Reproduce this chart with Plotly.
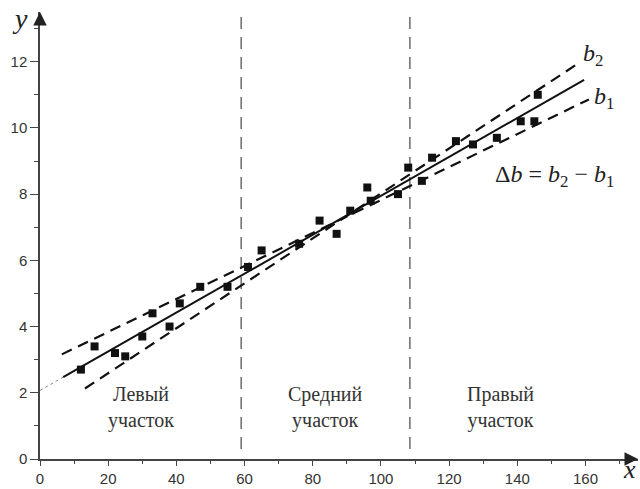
import plotly.graph_objects as go

# ---- data ----
x_pts = [12, 16, 22, 25, 30, 33, 38, 41, 47, 55, 61, 65, 76, 82, 87, 91, 96, 97,
         105, 108, 112, 115, 122, 127, 134, 141, 145, 146]
y_pts = [2.7, 3.4, 3.2, 3.1, 3.7, 4.4, 4.0, 4.7, 5.2, 5.2, 5.8, 6.3, 6.5, 7.2, 6.8,
         7.5, 8.2, 7.8, 8.0, 8.8, 8.4, 9.1, 9.6, 9.5, 9.7, 10.2, 10.2, 11.0]

fit_x = [6.8, 159.6]
fit_y = [2.47, 11.45]
extrap_x = [0, 6.8]
extrap_y = [2.07, 2.47]
b2_x = [13.2, 157.6]
b2_y = [2.13, 11.93]
b1_x = [6.4, 161.0]
b1_y = [3.16, 10.86]

divider_x = [59, 108.5]
divider_y = [0.3, 13.5]

region_labels = ["Левый<br>участок", "Средний<br>участок", "Правый<br>участок"]
region_x = [29.5, 83.7, 135.1]
region_y = [1.55, 1.55, 1.55]

x_ticks = [0, 20, 40, 60, 80, 100, 120, 140, 160]
y_ticks = [0, 2, 4, 6, 8, 10, 12]

X_MAX = 175.4
Y_MAX = 13.5

AX = "#444444"
SERIF = "Liberation Serif"

fig = go.Figure()

for dx in divider_x:
    fig.add_trace(go.Scatter(x=[dx, dx], y=divider_y, mode="lines",
                             line=dict(color="#555555", width=1.3, dash="12px,8px"),
                             hoverinfo="skip"))

fig.add_trace(go.Scatter(x=extrap_x, y=extrap_y, mode="lines",
                         line=dict(color="#888888", width=1, dash="dot"),
                         hoverinfo="skip"))
fig.add_trace(go.Scatter(x=b2_x, y=b2_y, mode="lines",
                         line=dict(color="#111111", width=2.2, dash="11px,7px"),
                         hoverinfo="skip"))
fig.add_trace(go.Scatter(x=b1_x, y=b1_y, mode="lines",
                         line=dict(color="#111111", width=2.2, dash="11px,7px"),
                         hoverinfo="skip"))
fig.add_trace(go.Scatter(x=fit_x, y=fit_y, mode="lines",
                         line=dict(color="#111111", width=2),
                         hoverinfo="skip"))
fig.add_trace(go.Scatter(x=x_pts, y=y_pts, mode="markers",
                         marker=dict(symbol="square", size=8, color="#111111"),
                         hoverinfo="skip"))

annotations = []
for txt, xx, yy in zip(region_labels, region_x, region_y):
    annotations.append(dict(x=xx, y=yy, xref="x", yref="y", text=txt, showarrow=False,
                            font=dict(family=SERIF, size=20, color="#333333"),
                            align="center", xanchor="center", yanchor="middle"))

annotations += [
    dict(x=158.6, y=12.2, xref="x", yref="y", text="<i>b</i><sub>2</sub>",
         showarrow=False, xanchor="left", yanchor="middle",
         font=dict(family=SERIF, size=24, color="#222222")),
    dict(x=161.8, y=10.9, xref="x", yref="y", text="<i>b</i><sub>1</sub>",
         showarrow=False, xanchor="left", yanchor="middle",
         font=dict(family=SERIF, size=24, color="#222222")),
    dict(x=151, y=8.55, xref="x", yref="y",
         text="Δ<i>b</i> = <i>b</i><sub>2</sub> − <i>b</i><sub>1</sub>",
         showarrow=False, xanchor="center", yanchor="middle",
         font=dict(family=SERIF, size=24, color="#222222")),
    dict(x=0.986, y=-0.06, xref="paper", yref="paper", text="<i>x</i>",
         showarrow=False, xanchor="center", yanchor="bottom",
         font=dict(family=SERIF, size=26, color="#222222")),
    dict(x=-0.034, y=0.985, xref="paper", yref="paper", text="<i>y</i>",
         showarrow=False, xanchor="center", yanchor="middle",
         font=dict(family=SERIF, size=28, color="#222222")),
    # arrow heads on axes
    dict(x=X_MAX, y=0, xref="x", yref="y", ax=-14, ay=0, text="",
         showarrow=True, arrowhead=2, arrowsize=1.8, arrowwidth=1.5, arrowcolor="#222222"),
    dict(x=0, y=Y_MAX, xref="x", yref="y", ax=0, ay=14, text="",
         showarrow=True, arrowhead=2, arrowsize=1.8, arrowwidth=1.5, arrowcolor="#222222"),
]

fig.update_layout(
    width=640, height=489,
    margin=dict(l=40, r=2, t=12, b=28),
    paper_bgcolor="white", plot_bgcolor="white",
    showlegend=False, hovermode=False,
    annotations=annotations,
    xaxis=dict(range=[0, X_MAX], tickvals=x_ticks, showgrid=False, zeroline=False,
               showline=True, linecolor=AX, linewidth=1.5,
               ticks="outside", ticklen=5, tickwidth=1.3, tickcolor=AX,
               minor=dict(dtick=10, tick0=0, ticks="outside", ticklen=3, tickwidth=1.3,
                          tickcolor=AX, showgrid=False),
               tickfont=dict(family="Liberation Sans", size=15, color="#333333")),
    yaxis=dict(range=[0, Y_MAX], tickvals=y_ticks, showgrid=False, zeroline=False,
               showline=True, linecolor=AX, linewidth=1.5,
               ticks="outside", ticklen=8, tickwidth=1.3, tickcolor=AX,
               minor=dict(dtick=1, tick0=0, ticks="outside", ticklen=4, tickwidth=1.3,
                          tickcolor=AX, showgrid=False),
               tickfont=dict(family="Liberation Sans", size=15, color="#333333")),
)

fig.write_html("out.html")
